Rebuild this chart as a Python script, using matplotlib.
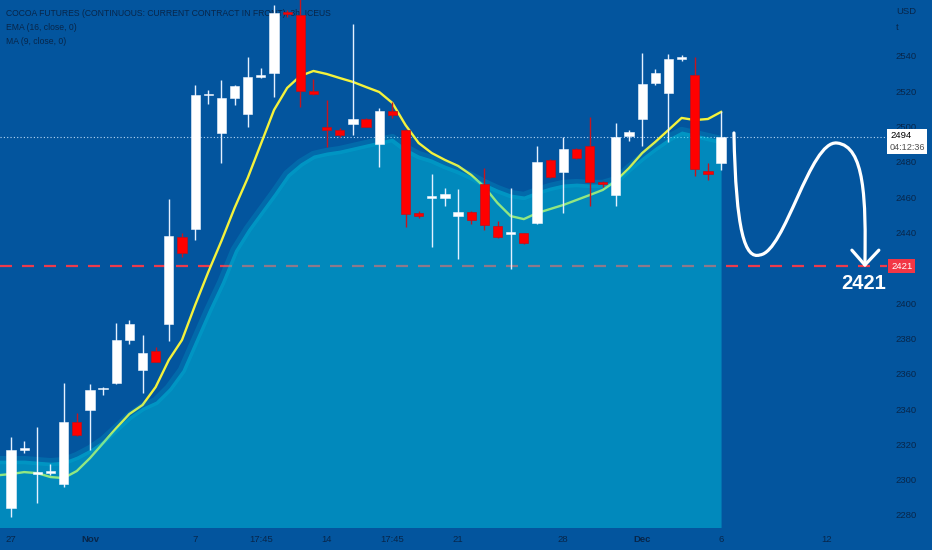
import matplotlib
matplotlib.use("Agg")
import numpy as np
import matplotlib.pyplot as plt
import matplotlib.transforms as mtransforms
from matplotlib import font_manager
from matplotlib.path import Path
from matplotlib.patches import PathPatch, Rectangle

# COCOA futures, 3h bars
opens = [2284, 2317, 2303.5, 2304, 2297.5, 2332.5, 2339.5, 2351.5, 2355, 2379,
         2362, 2373, 2388, 2437.5, 2442, 2518, 2496.5, 2516, 2507, 2528.5,
         2530.5, 2565, 2563, 2520, 2500, 2498, 2501.5, 2504.5, 2490, 2509,
         2498, 2451, 2460, 2459.5, 2449.5, 2451.5, 2467.5, 2443.5, 2439.5, 2439.5,
         2445.5, 2481, 2474.5, 2487.5, 2489, 2468.5, 2461, 2494.5, 2504.5, 2524.5,
         2519, 2538.5, 2529, 2475, 2479.5]
highs = [2324, 2322, 2330, 2309, 2355, 2338, 2354, 2352.5, 2389, 2390.5,
         2382, 2375, 2459, 2440, 2523.5, 2521, 2526.5, 2523.5, 2539.5, 2533,
         2569, 2566, 2575, 2527, 2515, 2499, 2558, 2505, 2510.5, 2514,
         2498.5, 2452, 2473, 2465, 2464.5, 2452, 2476.5, 2446.5, 2465, 2440,
         2489, 2481.5, 2494, 2488, 2505.5, 2469, 2502, 2498, 2541.5, 2532.5,
         2541, 2540.5, 2539.5, 2479.5, 2509]
lows = [2279, 2315, 2287, 2302.5, 2296, 2325, 2317, 2348, 2354, 2377,
        2349, 2366.5, 2378.5, 2426, 2436, 2513, 2479.5, 2512, 2500, 2527.5,
        2517, 2562, 2511, 2518, 2488.5, 2494, 2495, 2499.5, 2477, 2505,
        2443, 2448, 2432, 2455, 2425, 2445, 2441.5, 2437, 2419.5, 2433.5,
        2445, 2471, 2451, 2481.5, 2455, 2466, 2455, 2492, 2489, 2523.5,
        2491, 2537, 2472, 2470, 2475.5]
closes = [2317, 2318, 2304, 2305, 2332.5, 2325.5, 2351, 2352, 2379, 2388,
          2372, 2366.5, 2438, 2428.5, 2518, 2518.5, 2516, 2523, 2528, 2529,
          2564.5, 2564, 2520, 2518.5, 2498, 2495, 2504.5, 2500, 2509, 2506.5,
          2450.5, 2449.5, 2460.5, 2462, 2451.5, 2447, 2444, 2437.5, 2440, 2434,
          2480, 2471.5, 2487.5, 2482, 2468.5, 2467.5, 2494, 2497, 2524, 2530.5,
          2538.5, 2539, 2476, 2473, 2494]

# indicator values, first entry is the bar before the left edge (index -1)
ema16 = [2302.5, 2303.2, 2304.3, 2303.7, 2301.5, 2300.9, 2304.9, 2312.2, 2320.7, 2329.2,
         2337.2, 2342.3, 2352.5, 2367.8, 2379.1, 2398.9, 2417.6, 2435.2, 2453.9, 2470.9,
         2490.1, 2509.4, 2521.9, 2528.7, 2531.5, 2529.8, 2527.5, 2525.3, 2522.4, 2519.6,
         2513.4, 2500.9, 2490.7, 2485.0, 2481.1, 2477.7, 2472.6, 2465.8, 2456.7, 2449.3,
         2447.6, 2451.0, 2453.3, 2455.6, 2458.4, 2461.2, 2464.1, 2469.2, 2476.5, 2485.0,
         2491.3, 2498.1, 2504.9, 2503.7, 2504.3, 2508.3]
ma9 = [2311.1, 2311.1, 2311.1, 2310.5, 2309.9, 2310.5, 2313.4, 2317.3, 2322.4, 2329.2,
       2336.0, 2341.1, 2344.5, 2351.9, 2362.1, 2379.1, 2396.1, 2412.0, 2430.1, 2442.0,
       2452.2, 2462.4, 2473.1, 2479.4, 2483.9, 2485.6, 2486.7, 2488.4, 2490.1, 2491.8,
       2493.5, 2487.9, 2483.9, 2481.6, 2478.2, 2475.4, 2472.0, 2468.0, 2464.6, 2461.8,
       2460.7, 2463.5, 2465.8, 2467.5, 2468.0, 2467.5, 2467.5, 2469.7, 2476.5, 2482.8,
       2488.4, 2493.5, 2497.5, 2495.8, 2494.1, 2492.4]

tick_pos = [0, 6, 14, 19, 24, 29, 34, 42, 48, 54, 62]
tick_lbl = ['27', 'Nov', '7', '17:45', '14', '17:45', '21', '28', 'Dec', '6', '12']
# 2420 sits behind the red target label
price_ticks = [p for p in range(2280, 2541, 20) if p != 2420]

target = 2421
countdown = '04:12:36'

# hand drawn projection (bar index, price) - bezier points
arrow_x = [54.98, 55.13, 55.82, 56.96, 58.86, 60.76, 62.81, 64.94, 65.02, 64.94]
arrow_y = [2496.4, 2440.4, 2424.6, 2427.3, 2429.0, 2492.4, 2490.7, 2489.0, 2458.4, 2421.6]
head_x = [63.95, 64.94, 66.0]
head_y = [2430.0, 2421.6, 2430.0]

BG = '#03559e'
INK = '#08264a'
AREA = '#00d8eb'

names = {f.name for f in font_manager.fontManager.ttflist}
NARROW = 'Liberation Sans Narrow' if 'Liberation Sans Narrow' in names else 'Liberation Sans'
plt.rcParams['font.family'] = [NARROW, 'DejaVu Sans']

fig = plt.figure(figsize=(9.32, 5.5), dpi=100, facecolor=BG)
ax = fig.add_axes([0, 23 / 550, 887 / 932, 527 / 550], facecolor=BG)
ax.set_xlim(-0.84, 66.62)
ax.set_ylim(2273.2, 2571.7)
for s in ax.spines.values():
    s.set_visible(False)

# horizontal levels (under the area so they get tinted)
ax.axhline(target, color='#ee3a4c', lw=1.6, ls=(0, (5.4, 4.5)), zorder=1.5)
ax.axhline(closes[-1], color='#b8d8f5', lw=0.8, ls=(0, (1, 2)), zorder=1.5)

xi = np.arange(-1, len(closes))
ax.plot(xi, ema16, color='#f4f23c', lw=1.7, zorder=2)
ax.fill_between(xi, 2200, ma9, color=AREA, alpha=0.4, lw=0, zorder=3)
ax.plot(xi, ma9, color=AREA, alpha=0.16, lw=6, zorder=3, solid_capstyle='butt')

# candles
o = np.array(opens)
h = np.array(highs)
l = np.array(lows)
c = np.array(closes)
x = np.arange(len(c))
up = c >= o
mid = (o + c) / 2
hgt = np.maximum(np.abs(c - o), 0.9)
bot = mid - hgt / 2
ax.vlines(x[up], l[up], h[up], color='#e4f0ff', lw=1, zorder=4)
ax.vlines(x[~up], l[~up], h[~up], color='#c8141e', lw=1, zorder=4)
ax.bar(x[up], hgt[up], 0.7, bottom=bot[up], color='white', edgecolor='#f0f6ff', lw=0.4, zorder=5)
ax.bar(x[~up], hgt[~up], 0.7, bottom=bot[~up], color='#ff0000', edgecolor='#c0101a', lw=0.5, zorder=5)

# projection arrow
codes = [Path.MOVETO] + [Path.CURVE4] * 9
ax.add_patch(PathPatch(Path(list(zip(arrow_x, arrow_y)), codes), fc='none', ec='white',
                       lw=2.3, clip_on=False, zorder=6, capstyle='round'))
ax.plot(head_x, head_y, color='white', lw=2.3, clip_on=False, zorder=6, solid_capstyle='round')
ax.text(64.87, 2411.4, str(target), ha='center', va='center', color='white',
        fontsize=14.5, fontweight='bold', zorder=6)

# axes
ax.yaxis.tick_right()
ax.set_yticks(price_ticks)
ax.set_xticks(tick_pos, tick_lbl)
ax.tick_params(axis='y', length=0, pad=6, labelsize=6.8, labelcolor=INK)
ax.tick_params(axis='x', length=0, pad=6, labelsize=6.8, labelcolor=INK)
for t in ax.get_xticklabels():
    if t.get_text() in ('Nov', 'Dec'):
        t.set_fontweight('bold')

trans = mtransforms.blended_transform_factory(ax.transAxes, ax.transData)
ax.add_patch(Rectangle((1.0, 2484.5), 40 / 887, 14.1, transform=trans, fc='white',
                       ec='none', clip_on=False, zorder=7))
ax.text(1.0 + 3 / 887, closes[-1] + 0.7, f'{closes[-1]:.0f}', transform=trans, color='black',
        fontsize=6.8, va='center', zorder=8, clip_on=False)
ax.text(1.0 + 3 / 887, 2487.9, countdown, transform=trans, color='#505050',
        fontsize=6.6, va='center', zorder=8, clip_on=False)
ax.text(1.0 + 4 / 887, target, str(target), transform=trans, color='white', fontsize=6.8,
        va='center', zorder=8, clip_on=False,
        bbox=dict(boxstyle='square,pad=0.3', fc='#f23645', ec='none'))
ax.text(1.0 + 9 / 887, 1 - 11 / 527, 'USD', transform=ax.transAxes, color=INK,
        fontsize=6.8, va='center', clip_on=False)
ax.text(1.0 + 9 / 887, 1 - 27 / 527, 't', transform=ax.transAxes, color=INK,
        fontsize=6.8, va='center', clip_on=False)

# legend lines top left
legend = ['COCOA FUTURES (CONTINUOUS: CURRENT CONTRACT IN FRONT), 3h, ICEUS',
          'EMA (16, close, 0)', 'MA (9, close, 0)']
for k, s in enumerate(legend):
    ax.text(6 / 887, 1 - (14 + 14 * k) / 527, s, transform=ax.transAxes, color=INK,
            fontsize=6.2, va='center', zorder=1)

fig.savefig('out.png', dpi=100, facecolor=BG)
